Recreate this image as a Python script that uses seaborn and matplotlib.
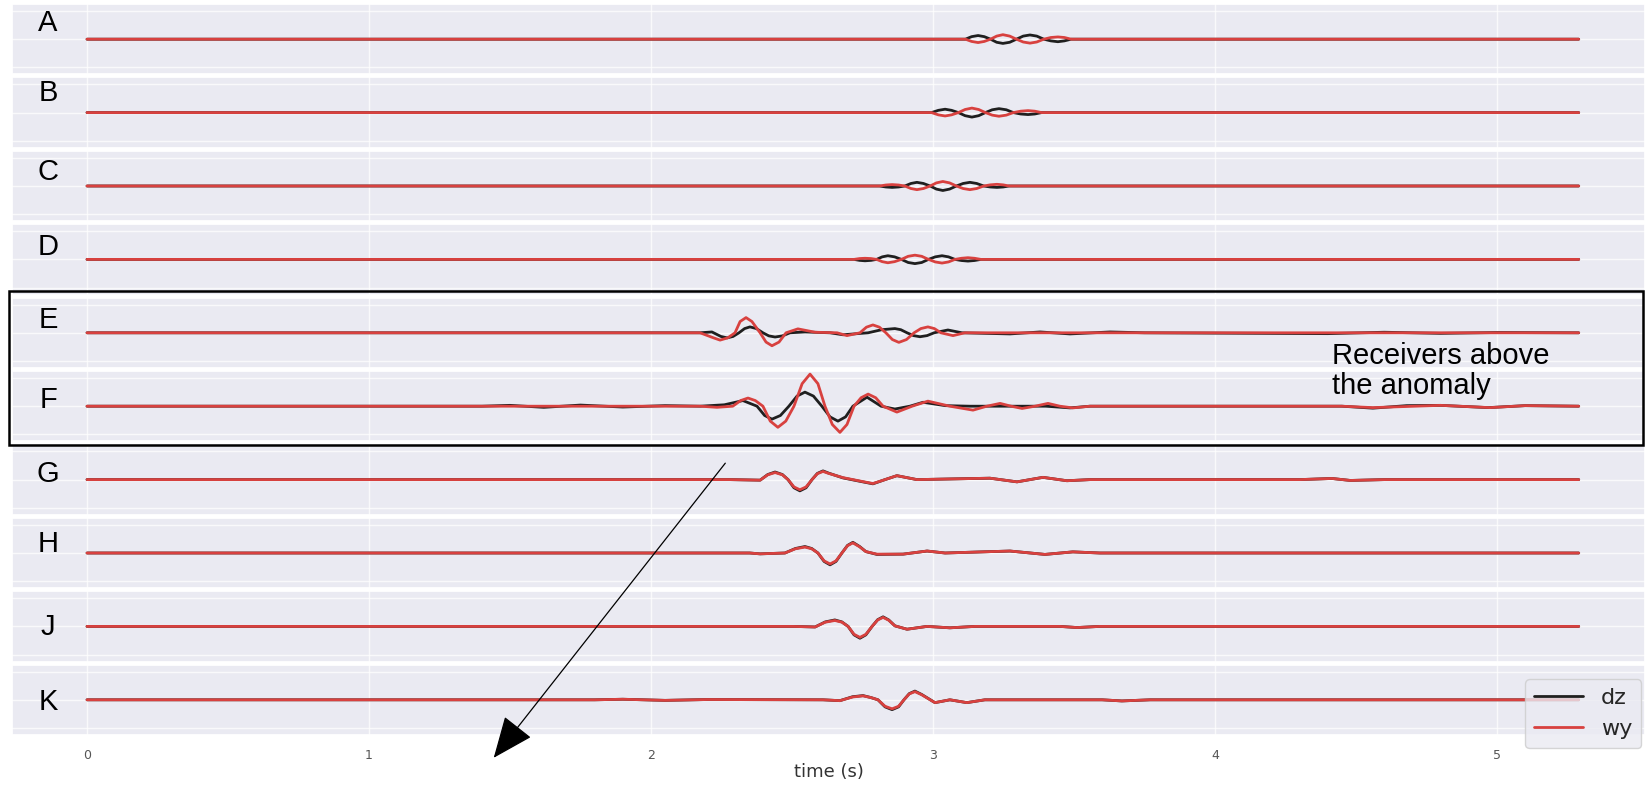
import matplotlib
matplotlib.use("Agg")
import matplotlib.pyplot as plt
from matplotlib.patches import Rectangle, FancyArrowPatch
import seaborn as sns

# ============================================================================
# DATOS - tiempo en s, amplitud normalizada
# ============================================================================
t_A = [0.0, 3.00, 3.115, 3.137, 3.160, 3.182, 3.204, 3.226, 3.248, 3.272,
       3.296, 3.320, 3.344, 3.368, 3.393, 3.418, 3.443, 3.466, 3.490, 5.29]
dz_A = [0, 0, 0, 0.09, 0.13, 0.09, 0, -0.11, -0.15, -0.11,
        0, 0.11, 0.15, 0.11, 0, -0.06, -0.09, -0.06, 0, 0]
wy_A = [0, 0, 0, -0.08, -0.12, -0.08, 0, 0.11, 0.16, 0.11,
        0, -0.10, -0.14, -0.10, 0, 0.06, 0.08, 0.06, 0, 0]

t_B = [0.0, 2.95, 2.995, 3.019, 3.043, 3.066, 3.090, 3.114, 3.138, 3.162,
       3.186, 3.210, 3.234, 3.260, 3.285, 3.311, 3.337, 3.361, 3.385, 5.29]
dz_B = [0, 0, 0, 0.08, 0.12, 0.08, 0, -0.11, -0.16, -0.11,
        0, 0.10, 0.14, 0.10, 0, -0.05, -0.07, -0.05, 0, 0]
wy_B = [0, 0, 0, -0.08, -0.12, -0.08, 0, 0.11, 0.16, 0.11,
        0, -0.09, -0.13, -0.09, 0, 0.05, 0.07, 0.05, 0, 0]

t_C = [0.0, 2.77, 2.81, 2.833, 2.855, 2.878, 2.900, 2.922, 2.943, 2.966,
       2.990, 3.012, 3.035, 3.059, 3.083, 3.107, 3.131, 3.155, 3.180, 3.203,
       3.227, 3.249, 3.270, 5.29]
dz_C = [0, 0, 0, -0.035, -0.05, -0.035, 0, 0.09, 0.13, 0.09,
        0, -0.11, -0.16, -0.11, 0, 0.09, 0.13, 0.09, 0, -0.035,
        -0.05, -0.035, 0, 0]
wy_C = [0, 0, 0, 0.035, 0.05, 0.035, 0, -0.09, -0.13, -0.09,
        0, 0.11, 0.16, 0.11, 0, -0.09, -0.13, -0.09, 0, 0.04,
        0.06, 0.04, 0, 0]

t_D = [0.0, 2.68, 2.72, 2.740, 2.759, 2.780, 2.800, 2.820, 2.840, 2.864,
       2.888, 2.912, 2.936, 2.960, 2.984, 3.008, 3.032, 3.055, 3.078, 3.101,
       3.124, 3.147, 3.170, 5.29]
dz_D = [0, 0, 0, -0.035, -0.05, -0.035, 0, 0.09, 0.13, 0.09,
        0, -0.11, -0.15, -0.11, 0, 0.09, 0.13, 0.09, 0, -0.04,
        -0.06, -0.04, 0, 0]
wy_D = [0, 0, 0, 0.03, 0.04, 0.03, 0, -0.08, -0.12, -0.08,
        0, 0.11, 0.15, 0.11, 0, -0.09, -0.13, -0.09, 0, 0.04,
        0.06, 0.04, 0, 0]

t_E_dz = [0.0, 2.10, 2.174, 2.216, 2.248, 2.270, 2.291, 2.312, 2.332, 2.351,
          2.374, 2.397, 2.418, 2.440, 2.466, 2.493, 2.546, 2.635, 2.681, 2.770,
          2.818, 2.865, 2.886, 2.908, 2.931, 2.954, 2.979, 3.004, 3.053, 3.103,
          3.273, 3.380, 3.486, 3.628, 3.75, 4.40, 4.60, 4.80, 5.00, 5.29]
dz_E = [0, 0, 0, 0.03, -0.13, -0.18, -0.13, 0, 0.15, 0.21,
        0.15, 0, -0.11, -0.15, -0.11, 0, 0.03, 0, -0.07, 0,
        0.11, 0.15, 0.11, 0, -0.10, -0.14, -0.10, 0, 0.10, 0,
        -0.04, 0.03, -0.04, 0.03, 0, -0.03, 0.02, -0.02, 0.01, 0]
t_E_wy = [0.0, 2.10, 2.174, 2.222, 2.245, 2.272, 2.298, 2.316, 2.337, 2.358,
          2.387, 2.408, 2.429, 2.454, 2.479, 2.521, 2.582, 2.660, 2.695, 2.741,
          2.764, 2.787, 2.810, 2.833, 2.856, 2.879, 2.906, 2.933, 2.957, 2.982,
          3.005, 3.028, 3.071, 3.113, 3.30, 5.29]
wy_E = [0, 0, 0, -0.18, -0.26, -0.18, 0, 0.40, 0.54, 0.40,
        0, -0.33, -0.46, -0.33, 0, 0.14, 0.02, 0, -0.10, 0,
        0.20, 0.28, 0.20, 0, -0.24, -0.34, -0.24, 0, 0.15, 0.21,
        0.15, 0, -0.10, 0, 0, 0]

t_F_dz = [0.0, 1.40, 1.50, 1.62, 1.75, 1.90, 2.05, 2.174, 2.26, 2.326,
          2.376, 2.403, 2.429, 2.459, 2.489, 2.518, 2.546, 2.576, 2.606, 2.635,
          2.663, 2.690, 2.716, 2.766, 2.816, 2.865, 2.918, 2.965, 3.043, 3.131,
          3.40, 3.486, 3.557, 4.45, 4.56, 4.68, 4.80, 4.97, 5.10, 5.29]
dz_F = [0, 0, 0.03, -0.04, 0.04, -0.03, 0.02, 0, 0.05, 0.20,
        0, -0.33, -0.46, -0.33, 0, 0.36, 0.50, 0.36, 0, -0.38,
        -0.53, -0.38, 0, 0.32, 0, -0.10, 0, 0.14, 0.02, 0,
        0, -0.06, 0, 0, -0.07, 0.02, 0.03, -0.05, 0.02, 0]
t_F_wy = [0.0, 2.174, 2.234, 2.290, 2.318, 2.344, 2.370, 2.397, 2.423, 2.450,
          2.478, 2.507, 2.536, 2.564, 2.592, 2.617, 2.643, 2.670, 2.695, 2.720,
          2.745, 2.770, 2.797, 2.823, 2.872, 2.926, 2.982, 3.060, 3.142, 3.191,
          3.238, 3.277, 3.316, 3.362, 3.408, 3.450, 3.496, 3.557, 4.45, 4.56,
          4.80, 4.975, 5.10, 5.29]
wy_F = [0, 0, -0.04, 0, 0.20, 0.29, 0.20, 0, -0.53, -0.75,
        -0.53, 0, 0.80, 1.14, 0.80, 0, -0.65, -0.93, -0.65, 0,
        0.30, 0.43, 0.30, 0, -0.21, 0, 0.18, 0, -0.14, 0,
        0.10, 0, -0.08, 0, 0.10, 0, -0.06, 0, 0, -0.05,
        0.03, -0.05, 0.02, 0]

t_G = [0.0, 2.28, 2.387, 2.414, 2.440, 2.466, 2.486, 2.507, 2.528, 2.550,
       2.571, 2.590, 2.610, 2.630, 2.681, 2.741, 2.787, 2.830, 2.872, 2.943,
       3.202, 3.298, 3.390, 3.475, 3.557, 4.30, 4.415, 4.48, 4.60, 5.29]
wy_G = [0, 0, -0.02, 0.17, 0.25, 0.17, 0, -0.26, -0.36, -0.26,
        0, 0.21, 0.29, 0.22, 0.07, -0.05, -0.14, 0, 0.14, 0,
        0.05, -0.08, 0.08, -0.04, 0, 0, 0.04, -0.03, 0, 0]
dz_G = [0, 0, -0.02, 0.18, 0.27, 0.18, 0, -0.29, -0.40, -0.29,
        0, 0.22, 0.31, 0.23, 0.06, -0.06, -0.15, 0, 0.14, 0,
        0.05, -0.08, 0.08, -0.04, 0, 0, 0.04, -0.03, 0, 0]

t_H = [0.0, 2.35, 2.387, 2.475, 2.512, 2.546, 2.570, 2.592, 2.614, 2.635,
       2.656, 2.677, 2.697, 2.716, 2.740, 2.762, 2.801, 2.894, 2.979, 3.043,
       3.273, 3.397, 3.496, 3.592, 5.29]
wy_H = [0, 0, -0.03, 0, 0.15, 0.21, 0.15, 0, -0.28, -0.39,
        -0.28, 0, 0.26, 0.36, 0.22, 0.05, -0.04, -0.04, 0.07, 0,
        0.07, -0.05, 0.04, 0, 0]
dz_H = [0, 0, -0.03, 0, 0.16, 0.23, 0.16, 0, -0.30, -0.42,
        -0.30, 0, 0.27, 0.38, 0.23, 0.05, -0.05, -0.04, 0.07, 0,
        0.07, -0.05, 0.04, 0, 0]

t_J = [0.0, 2.504, 2.582, 2.618, 2.652, 2.677, 2.699, 2.720, 2.741, 2.762,
       2.784, 2.804, 2.823, 2.843, 2.865, 2.908, 2.979, 3.060, 3.149, 3.45,
       3.511, 3.592, 5.29]
wy_J = [0, 0, -0.02, 0.15, 0.21, 0.15, 0, -0.28, -0.39, -0.28,
        0, 0.23, 0.32, 0.22, 0.02, -0.10, 0, -0.05, 0, 0,
        -0.04, 0, 0]
dz_J = [0, 0, -0.02, 0.16, 0.23, 0.16, 0, -0.30, -0.42, -0.30,
        0, 0.24, 0.34, 0.23, 0.02, -0.10, 0, -0.05, 0, 0,
        -0.04, 0, 0]

t_K = [0.0, 1.80, 1.90, 2.05, 2.20, 2.61, 2.670, 2.715, 2.752, 2.780,
       2.805, 2.830, 2.855, 2.878, 2.897, 2.916, 2.936, 2.960, 3.007, 3.060,
       3.120, 3.184, 3.60, 3.670, 3.770, 5.29]
wy_K = [0, 0, 0.02, -0.02, 0.01, 0, -0.03, 0.10, 0.14, 0.08,
        0, -0.23, -0.32, -0.23, 0, 0.21, 0.29, 0.18, -0.10, 0,
        -0.10, 0, 0, -0.04, 0, 0]
dz_K = [0, 0, 0.02, -0.02, 0.01, 0, -0.03, 0.11, 0.15, 0.08,
        0, -0.25, -0.35, -0.25, 0, 0.22, 0.31, 0.19, -0.10, 0,
        -0.10, 0, 0, -0.04, 0, 0]

receptores = ["A", "B", "C", "D", "E", "F", "G", "H", "J", "K"]
trazas = [
    (t_A, dz_A, t_A, wy_A),
    (t_B, dz_B, t_B, wy_B),
    (t_C, dz_C, t_C, wy_C),
    (t_D, dz_D, t_D, wy_D),
    (t_E_dz, dz_E, t_E_wy, wy_E),
    (t_F_dz, dz_F, t_F_wy, wy_F),
    (t_G, dz_G, t_G, wy_G),
    (t_H, dz_H, t_H, wy_H),
    (t_J, dz_J, t_J, wy_J),
    (t_K, dz_K, t_K, wy_K),
]
xticks = [0, 1, 2, 3, 4, 5]

# ============================================================================
# ESTILO
# ============================================================================
sns.set_theme(style="darkgrid")
plt.rcParams['font.family'] = ['DejaVu Sans']

W, H = 1645, 788
fig, axes = plt.subplots(len(receptores), 1, figsize=(W / 100, H / 100), dpi=100, sharex=True)
fig.subplots_adjust(left=12 / W, right=1.0, top=1 - 4 / H, bottom=1 - 735 / H, hspace=0.043)

COLOR_DZ = '#1f1f1f'
COLOR_WY = '#d8413f'

for ax, (tdz, dz, twy, wy) in zip(axes, trazas):
    sns.lineplot(x=tdz, y=dz, ax=ax, color=COLOR_DZ, linewidth=2.0, label='dz',
                 estimator=None, sort=False, legend=False)
    sns.lineplot(x=twy, y=wy, ax=ax, color=COLOR_WY, linewidth=2.0, label='wy',
                 estimator=None, sort=False, legend=False)
    for ln in ax.get_lines():
        ln.set_solid_joinstyle('round')
    ax.set_ylim(-1.25, 1.25)
    ax.set_yticks([-1, 0, 1])
    ax.set_yticklabels([])
    ax.set_ylabel("")
    ax.tick_params(left=False, bottom=False)
    ax.grid(True, color='white', linewidth=1.0, alpha=0.75)

axes[-1].set_xlim(-0.266, 5.525)
axes[-1].set_xticks(xticks)
axes[-1].set_xticklabels([str(v) for v in xticks], fontsize=9, color='#555555')
axes[-1].tick_params(axis='x', pad=4)
axes[-1].set_xlabel("time (s)", fontsize=13, color='#333333', labelpad=1)

# Leyenda (abajo a la derecha, sobresale un poco del eje)
axes[-1].legend(loc='lower right', bbox_to_anchor=(1641 / W, 1 - 748 / H),
                bbox_transform=fig.transFigure, fontsize=16, handlelength=2.2,
                frameon=True, borderpad=0.4, borderaxespad=0)

# ============================================================================
# ANOTACIONES
# ============================================================================
letra_y = [23, 93, 172, 247, 320, 400, 474, 544, 627, 702]
for letra, yy in zip(receptores, letra_y):
    fig.text(48 / W, 1 - yy / H, letra, ha='center', va='center', fontsize=21,
             family='Liberation Sans', color='black')

# recuadro alrededor de E y F
fig.add_artist(Rectangle((9 / W, 1 - 445 / H), (1643 - 9) / W, (445 - 291) / H,
                         transform=fig.transFigure, fill=False, edgecolor='black',
                         linewidth=1.8, zorder=10))
fig.text(1332 / W, 1 - 342 / H, "Receivers above\nthe anomaly", ha='left', va='top',
         fontsize=21, family='Liberation Sans', color='black', linespacing=1.1)

# flecha
fig.add_artist(FancyArrowPatch((727 / W, 1 - 461 / H), (492 / W, 1 - 760 / H),
                               transform=fig.transFigure,
                               arrowstyle='-|>,head_length=1.2,head_width=0.5',
                               mutation_scale=22, linewidth=0.9, color='black', zorder=10))

plt.savefig("out.png", dpi=100)
plt.close()
